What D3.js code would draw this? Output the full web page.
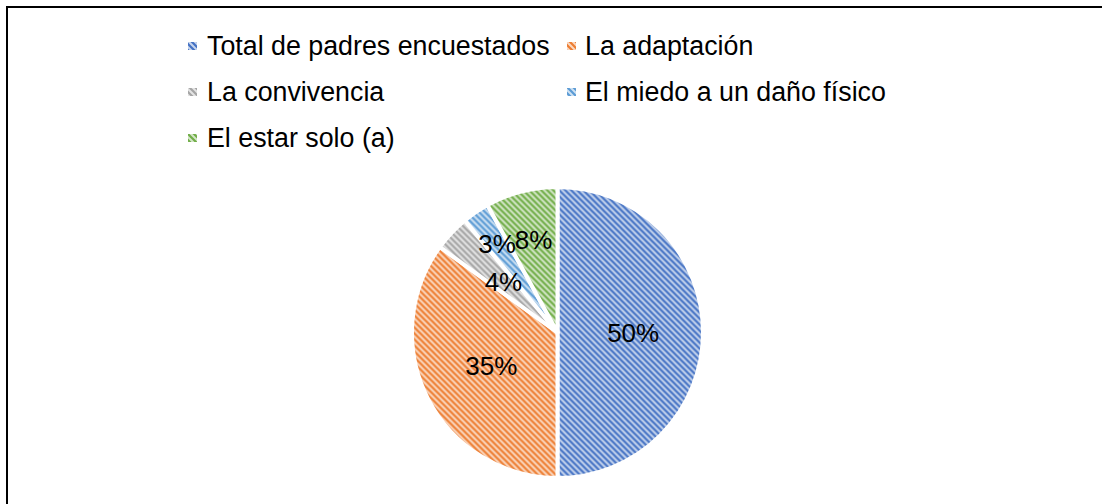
<!DOCTYPE html>
<html>
<head>
<meta charset="utf-8">
<script src="https://cdn.jsdelivr.net/npm/d3@7"></script>
<style>
  body { margin: 0; background: #fff; }
  svg { display: block; font-family: "Liberation Sans", Arial, sans-serif; }
</style>
</head>
<body>
<svg id="chart" width="1102" height="504"></svg>
<script>
// data
let categories = ["Total de padres encuestados", "La adaptación", "La convivencia", "El miedo a un daño físico", "El estar solo (a)"];
let values = [50, 35, 4, 3, 8];
let labels = ["50%", "35%", "4%", "3%", "8%"];

let colors = ["#4472C4", "#ED7D31", "#A5A5A5", "#5B9BD5", "#70AD47"];
let labelRadius = [0.52, 0.51, 0.51, 0.74, 0.66]; // excel "best fit" spots

let svg = d3.select("#chart");
let cx = 557.5, cy = 332.5, r = 145.5;

// hatch fills
let defs = svg.append("defs");
colors.forEach((c, i) => {
  let p = defs.append("pattern")
    .attr("id", "hatch" + i)
    .attr("patternUnits", "userSpaceOnUse")
    .attr("width", 6)
    .attr("height", 6);
  p.append("rect").attr("width", 6).attr("height", 6)
    .attr("fill", d3.interpolateRgb(c, "#fff")(0.7));
  p.append("path")
    .attr("d", "M0,0L6,6M-1,5L1,7M5,-1L7,1")
    .attr("stroke", c)
    .attr("stroke-width", 2.2);
});

// frame (only top and left edge show)
svg.append("path")
  .attr("d", "M7,504V7H1102")
  .attr("fill", "none")
  .attr("stroke", "#000")
  .attr("stroke-width", 2);

let pie = d3.pie().sort(null).value(d => d);
let arcs = pie(values);
let arc = d3.arc().innerRadius(0).outerRadius(r);

let g = svg.append("g").attr("transform", `translate(${cx},${cy})`);

g.selectAll("path.slice")
  .data(arcs)
  .enter()
  .append("path")
  .attr("class", "slice")
  .attr("d", arc)
  .attr("fill", (d, i) => `url(#hatch${i})`)
  .attr("stroke", "#fff")
  .attr("stroke-width", 4)
  .attr("stroke-linejoin", "round");

g.selectAll("text.lbl")
  .data(arcs)
  .enter()
  .append("text")
  .attr("class", "lbl")
  .attr("transform", (d, i) => {
    let a = (d.startAngle + d.endAngle) / 2;
    let rr = r * labelRadius[i];
    return `translate(${Math.sin(a) * rr},${-Math.cos(a) * rr})`;
  })
  .attr("text-anchor", "middle")
  .attr("dy", "0.35em")
  .style("font-size", "26px")
  .attr("fill", "#000")
  .text((d, i) => labels[i]);

// legend, two columns
let colX = [188, 567];
let textX = [207, 585];
let rowY = [46, 92, 138];

let leg = svg.selectAll("g.leg")
  .data(categories)
  .enter()
  .append("g")
  .attr("class", "leg");

leg.append("rect")
  .attr("x", (d, i) => colX[i % 2])
  .attr("y", (d, i) => rowY[Math.floor(i / 2)] - 4)
  .attr("width", 9)
  .attr("height", 8)
  .attr("fill", (d, i) => `url(#hatch${i})`);

leg.append("text")
  .attr("x", (d, i) => textX[i % 2])
  .attr("y", (d, i) => rowY[Math.floor(i / 2)])
  .attr("dy", "0.35em")
  .style("font-size", "26.8px")
  .attr("fill", "#000")
  .text(d => d);
</script>
</body>
</html>
